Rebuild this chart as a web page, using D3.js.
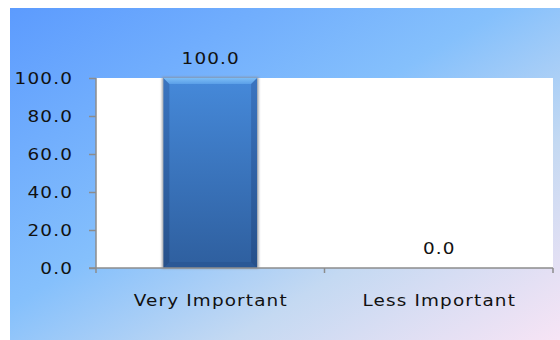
<!DOCTYPE html>
<html>
<head>
<meta charset="utf-8">
<script src="https://cdn.jsdelivr.net/npm/d3@7"></script>
<style>
  html, body { margin: 0; padding: 0; background: #ffffff; }
  svg { display: block; }
  text { font-family: "DejaVu Sans", sans-serif; fill: #111; }
</style>
</head>
<body>
<svg id="chart" width="560" height="340"></svg>
<script>
// Chart data
const categories = ["Very Important", "Less Important"];
const values = [100.0, 0.0];
const yTicks = [0, 20, 40, 60, 80, 100];

const svg = d3.select("#chart");
const W = 560, H = 340;
const plot = { left: 96, right: 553, top: 78, bottom: 268 };
const FONT = "DejaVu Sans, sans-serif";
const FS = 16, LS = 1, SX = 1.15; // font size, letter spacing, horizontal stretch

// Widen label glyphs horizontally around their own anchor point
function stretch(sel) {
  sel.each(function () {
    const t = d3.select(this);
    const tx = +t.attr("x") || 0, ty = +t.attr("y") || 0;
    t.attr("x", 0).attr("y", 0)
      .attr("transform", `translate(${tx},${ty}) scale(${SX},1)`);
  });
}

const defs = svg.append("defs");

// Background gradient: saturated blue top-left fading to pale lavender bottom-right
const bg = defs.append("linearGradient").attr("id", "bgGrad")
  .attr("x1", "0%").attr("y1", "0%").attr("x2", "100%").attr("y2", "100%");
bg.append("stop").attr("offset", "0%").attr("stop-color", "#5c9bfe");
bg.append("stop").attr("offset", "45%").attr("stop-color", "#85c0fc");
bg.append("stop").attr("offset", "70%").attr("stop-color", "#c4d9f2");
bg.append("stop").attr("offset", "100%").attr("stop-color", "#f7e4f5");

// Bar body gradient (vertical)
const barGrad = defs.append("linearGradient").attr("id", "barGrad")
  .attr("x1", "0").attr("y1", "0").attr("x2", "0").attr("y2", "1");
barGrad.append("stop").attr("offset", "0%").attr("stop-color", "#4588d8");
barGrad.append("stop").attr("offset", "100%").attr("stop-color", "#2f60a0");

// Side shading for the bevelled edges
const sideGrad = defs.append("linearGradient").attr("id", "sideGrad")
  .attr("x1", "0").attr("y1", "0").attr("x2", "0").attr("y2", "1");
sideGrad.append("stop").attr("offset", "0%").attr("stop-color", "#3a74c0");
sideGrad.append("stop").attr("offset", "100%").attr("stop-color", "#26508a");

const topGrad = defs.append("linearGradient").attr("id", "topGrad")
  .attr("x1", "0").attr("y1", "0").attr("x2", "0").attr("y2", "1");
topGrad.append("stop").attr("offset", "0%").attr("stop-color", "#7cbdf6");
topGrad.append("stop").attr("offset", "100%").attr("stop-color", "#5a9fe8");

const blur = defs.append("filter").attr("id", "soft")
  .attr("x", "-20%").attr("y", "-20%").attr("width", "140%").attr("height", "140%");
blur.append("feGaussianBlur").attr("stdDeviation", 1.2);

// Chart background
svg.append("rect").attr("x", 10).attr("y", 8).attr("width", W - 10).attr("height", H - 8)
  .attr("fill", "url(#bgGrad)");

// Plot area
svg.append("rect")
  .attr("x", plot.left).attr("y", plot.top)
  .attr("width", plot.right - plot.left).attr("height", plot.bottom - plot.top)
  .attr("fill", "#ffffff");

const x = d3.scaleBand().domain(categories).range([plot.left, plot.right]).paddingInner(0).paddingOuter(0);
const y = d3.scaleLinear().domain([0, 100]).range([plot.bottom, plot.top]);

const barW = x.bandwidth() * 0.41;

// Bars
const bars = svg.append("g").selectAll("g").data(categories.map((c, i) => ({ c, v: values[i] })))
  .join("g")
  .attr("transform", d => `translate(${x(d.c) + x.bandwidth() / 2 - barW / 2},0)`);

bars.filter(d => d.v > 0).each(function (d) {
  const g = d3.select(this);
  const top = y(d.v), bot = y(0), h = bot - top;
  const b = 6; // bevel size
  // soft grey halo
  g.append("rect").attr("x", -1.5).attr("y", top - 1).attr("width", barW + 3).attr("height", h + 1.5)
    .attr("fill", "#8a8f96").attr("opacity", 0.8).attr("filter", "url(#soft)");
  g.append("rect").attr("x", 0).attr("y", top).attr("width", barW).attr("height", h)
    .attr("fill", "url(#sideGrad)");
  // top bevel
  g.append("path")
    .attr("d", `M0,${top} L${barW},${top} L${barW - b},${top + b} L${b},${top + b} Z`)
    .attr("fill", "url(#topGrad)");
  // bottom bevel
  g.append("path")
    .attr("d", `M0,${bot} L${barW},${bot} L${barW - b},${bot - b} L${b},${bot - b} Z`)
    .attr("fill", "#2a5896");
  // face
  g.append("rect").attr("x", b).attr("y", top + b).attr("width", barW - 2 * b).attr("height", h - 2 * b)
    .attr("fill", "url(#barGrad)");
});

// Value labels
bars.append("text")
  .attr("x", barW / 2 + LS / 2)
  .attr("y", d => y(d.v) - 14)
  .attr("text-anchor", "middle")
  .attr("font-size", FS).attr("letter-spacing", LS)
  .text(d => d.v.toFixed(1))
  .call(stretch);

// Y axis
const yAxis = d3.axisLeft(y).tickValues(yTicks).tickFormat(d => d.toFixed(1))
  .tickSize(7).tickPadding(16);
const gy = svg.append("g").attr("transform", `translate(${plot.left},0)`).call(yAxis);
gy.select(".domain").attr("stroke", "#8c8c8c").attr("stroke-width", 1.5)
  .attr("d", `M0,${plot.top}V${plot.bottom}`);
gy.selectAll(".tick line").attr("stroke", "#8c8c8c").attr("stroke-width", 1.5);
gy.selectAll(".tick text").attr("font-size", FS).attr("font-family", FONT)
  .attr("letter-spacing", LS).attr("fill", "#111")
  .call(stretch);

// X axis
const xAxis = d3.axisBottom(x).tickSize(0);
const gx = svg.append("g").attr("transform", `translate(0,${plot.bottom})`).call(xAxis);
gx.select(".domain").attr("stroke", "#8c8c8c").attr("stroke-width", 1.5)
  .attr("d", `M${plot.left - 7},0H${plot.right}`);
gx.selectAll(".tick text").attr("font-size", FS).attr("font-family", FONT)
  .attr("letter-spacing", LS).attr("fill", "#111")
  .attr("x", LS / 2).attr("y", 37.5).attr("dy", 0)
  .call(stretch);
// category separators
const seps = [plot.left, ...categories.map(c => x(c) + x.bandwidth())];
gx.selectAll(".sep").data(seps).join("line").attr("class", "sep")
  .attr("x1", d => d).attr("x2", d => d).attr("y1", 0).attr("y2", 5)
  .attr("stroke", "#8c8c8c").attr("stroke-width", 1.5);
</script>
</body>
</html>
